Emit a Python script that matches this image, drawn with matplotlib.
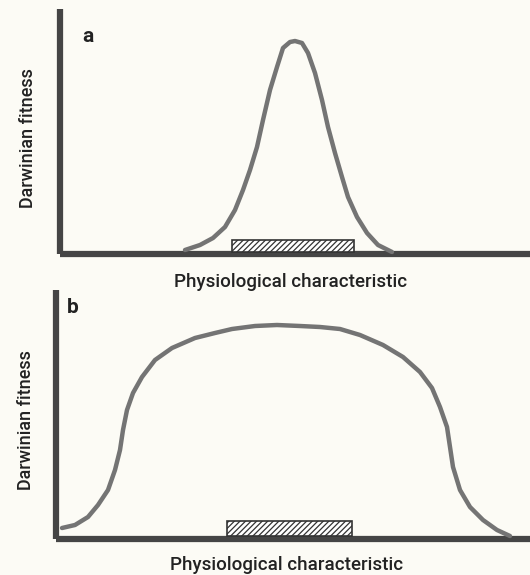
import matplotlib.pyplot as plt
from matplotlib.patches import Rectangle

plt.rcParams['font.family'] = ['Roboto', 'DejaVu Sans']

# panel a: narrow fitness curve (x = trait, y = fitness)
curve_a_x = [125, 140, 153, 165, 175, 183, 190, 197, 203, 210, 217, 223, 230, 235,
             242, 248, 255, 262, 268, 275, 282, 288, 297, 307, 318, 332]
curve_a_y = [4, 9, 16, 27, 44, 64, 84, 107, 134, 164, 187, 206, 212, 213,
             211, 201, 181, 154, 127, 101, 77, 57, 37, 21, 9, 2]
range_a = (172, 294)   # hatched bar: normal range of the characteristic

# panel b: broad fitness curve
curve_b_x = [6, 19, 32, 42, 52, 59, 64, 67, 71, 77, 86, 99, 116, 139, 159, 176, 199,
             221, 244, 264, 284, 304, 327, 347, 364, 376, 384, 391, 394, 397, 404,
             414, 427, 441, 454]
curve_b_y = [11, 14, 22, 34, 49, 69, 89, 109, 129, 146, 162, 179, 191, 201, 206, 210, 213,
             214, 213, 212, 210, 204, 194, 182, 167, 151, 132, 112, 92, 72, 49,
             32, 19, 9, 3]
range_b = (171, 296)

xlabel = 'Physiological characteristic'
ylabel = 'Darwinian fitness'

W, H = 530, 575
bg = '#fcfbf5'
axis_col = '#454545'
curve_col = '#747474'

fig = plt.figure(figsize=(W / 100, H / 100), dpi=100, facecolor=bg)
plt.rcParams['hatch.color'] = '#444444'
plt.rcParams['hatch.linewidth'] = 0.9


def panel(rect, xs, ys, rng, bar_y, xmax, ymax):
    ax = fig.add_axes(rect)
    ax.set_facecolor('none')
    ax.set_xlim(0, xmax)
    ax.set_ylim(0, ymax)
    for s in ['top', 'right']:
        ax.spines[s].set_visible(False)
    for s in ['left', 'bottom']:
        ax.spines[s].set_linewidth(4.5)
        ax.spines[s].set_color(axis_col)
        ax.spines[s].set_capstyle('butt')
    ax.set_xticks([])
    ax.set_yticks([])
    ax.plot(xs, ys, color=curve_col, lw=3.2, solid_capstyle='round',
            solid_joinstyle='round', clip_on=False, zorder=3)
    ax.add_patch(Rectangle((rng[0], bar_y[0]), rng[1] - rng[0], bar_y[1],
                           facecolor='white', edgecolor='#333333', lw=1.2,
                           hatch='//////', zorder=4))
    return ax


panel([60 / W, 1 - 254 / H, 470 / W, 245 / H], curve_a_x, curve_a_y, range_a, (2, 12), 470, 245)
panel([56 / W, 1 - 539 / H, 474 / W, 249 / H], curve_b_x, curve_b_y, range_b, (3, 15), 474, 249)

tc = '#222222'
fig.text(88 / W, 1 - 37 / H, 'a', fontsize=15, fontweight='bold', color=tc, ha='center', va='center')
fig.text(73 / W, 1 - 308 / H, 'b', fontsize=15, fontweight='bold', color=tc, ha='center', va='center')
fig.text(28 / W, 1 - 138 / H, ylabel, fontsize=13, fontweight='medium', rotation=90, color=tc, ha='center', va='center')
fig.text(26 / W, 1 - 420 / H, ylabel, fontsize=13, fontweight='medium', rotation=90, color=tc, ha='center', va='center')
fig.text(291 / W, 1 - 282 / H, xlabel, fontsize=13.5, fontweight='medium', color=tc, ha='center', va='center')
fig.text(287 / W, 1 - 565 / H, xlabel, fontsize=13.5, fontweight='medium', color=tc, ha='center', va='center')

fig.savefig('out.png', dpi=100, facecolor=bg)
